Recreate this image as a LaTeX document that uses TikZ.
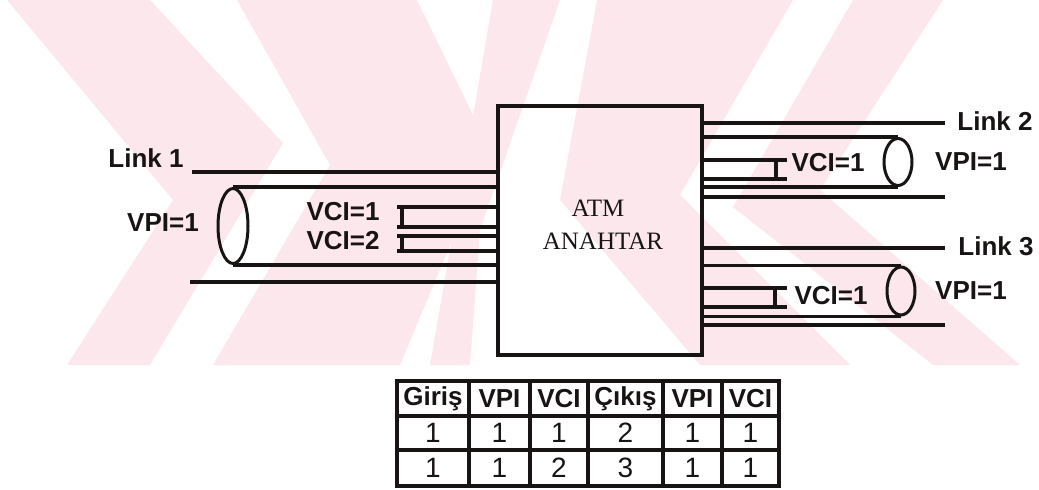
\documentclass[tikz,border=0pt]{standalone}
\usepackage{fontspec}
\setmainfont{Liberation Serif}
\setsansfont{Liberation Sans}
\usetikzlibrary{shapes.geometric,calc}
\definecolor{wm}{RGB}{252,232,236}
\definecolor{ink}{RGB}{25,20,20}
\tikzset{
  ln/.style={line width=3.4pt, draw=ink},
  tubeend/.style={draw=ink, line width=3pt, ellipse, inner sep=0pt},
  lbl/.style={font=\sffamily\bfseries\fontsize{26}{26}\selectfont, inner sep=0pt, text=ink},
  boxtxt/.style={font=\rmfamily\fontsize{25}{25}\selectfont, inner sep=0pt, text=ink},
  thd/.style={font=\sffamily\bfseries\fontsize{26}{26}\selectfont, inner sep=0pt, text=ink},
  tcell/.style={font=\sffamily\fontsize{28}{28}\selectfont, inner sep=0pt, text=ink},
}
\begin{document}
\begin{tikzpicture}[x=1pt,y=-1pt]
\useasboundingbox (0,0) rectangle (1039,490);
% watermark
\begin{scope}
\clip (0,0) rectangle (1039,365);
\fill[wm] (7,0) -- (150,0) -- (283,143) -- (150,365) -- (67,365) -- (173,200) -- cycle;
\fill[wm] (237,0) -- (417,0) -- (490,150) -- (400,365) -- (213,365) -- (330,165) -- cycle;
\fill[wm] (493,0) -- (560,0) -- (480,230) -- (470,365) -- (430,365) -- cycle;
\fill[wm] (597,0) -- (793,0) -- (680,195) -- (850,365) -- (700,365) -- (560,200) -- cycle;
\fill[wm] (853,0) -- (943,0) -- (820,190) -- (1020,365) -- (933,365) -- (733,207) -- cycle;
\end{scope}

% switch
\node[draw=ink, line width=3.6pt, minimum width=204pt, minimum height=249pt, inner sep=0pt] (sw) at (600,230.5) {};
\node[boxtxt] (atm) at (598,208) {ATM};
\node[boxtxt] (anahtar) at (603,241) {ANAHTAR};

% ---- Link 1 ----
\coordinate (l1t) at (192,172);
\coordinate (l1b) at (190,282);
\draw[ln] (l1t) -- (l1t -| sw.west);
\draw[ln] (l1b) -- (l1b -| sw.west);
\node[tubeend, minimum width=30pt, minimum height=75pt] (e1) at (233,226) {};
\draw[ln] (e1.north) -- (e1.north -| sw.west);
\draw[ln] (e1.south) -- (e1.south -| sw.west);
\coordinate (v1a) at (397,207);
\coordinate (v1b) at (397,227);
\coordinate (v2a) at (397,236);
\coordinate (v2b) at (397,251);
\foreach \c in {v1a,v1b,v2a,v2b} \draw[ln] (\c) -- (\c -| sw.west);
\draw[ln] ($(v1a)+(5,0)$) -- ($(v1b)+(5,0)$);
\draw[ln] ($(v2a)+(5,0)$) -- ($(v2b)+(5,0)$);
\node[lbl] (link1) at (146,158) {Link 1};
\node[lbl] (vpi1) at (163,223) {VPI=1};
\node[lbl] (vci11) at (343,212) {VCI=1};
\node[lbl] (vci12) at (343,241) {VCI=2};

% ---- Link 2 ----
\coordinate (l2t) at (945,123);
\coordinate (l2b) at (945,197);
\draw[ln] (sw.east |- l2t) -- (l2t);
\draw[ln] (sw.east |- l2b) -- (l2b);
\node[tubeend, minimum width=28pt, minimum height=47pt] (e2) at (898,162) {};
\draw[ln] (sw.east |- e2.north) -- (e2.north);
\draw[ln] (sw.east |- e2.south) -- (e2.south);
\coordinate (v3a) at (787,160);
\coordinate (v3b) at (787,179);
\foreach \c in {v3a,v3b} \draw[ln] (sw.east |- \c) -- (\c);
\draw[ln] ($(v3a)+(-11,0)$) -- ($(v3b)+(-11,0)$);
\node[lbl] (link2) at (995,121) {Link 2};
\node[lbl] (vci21) at (828,163) {VCI=1};
\node[lbl] (vpi2) at (971,162) {VPI=1};

% ---- Link 3 ----
\coordinate (l3t) at (945,248);
\coordinate (l3b) at (945,325);
\draw[ln] (sw.east |- l3t) -- (l3t);
\draw[ln] (sw.east |- l3b) -- (l3b);
\node[tubeend, minimum width=28pt, minimum height=48pt] (e3) at (901,291) {};
\draw[ln] (sw.east |- e3.north) -- (e3.north);
\draw[ln] (sw.east |- e3.south) -- (e3.south);
\coordinate (v4a) at (787,288);
\coordinate (v4b) at (787,307);
\foreach \c in {v4a,v4b} \draw[ln] (sw.east |- \c) -- (\c);
\draw[ln] ($(v4a)+(-12,0)$) -- ($(v4b)+(-12,0)$);
\node[lbl] (link3) at (996,246) {Link 3};
\node[lbl] (vci31) at (831,296) {VCI=1};
\node[lbl] (vpi3) at (971,291) {VPI=1};

% ---- table ----
\draw[ln] (397,381) rectangle (779,486);
\foreach \y in {416,450} \draw[ln] (397,\y) -- (779,\y);
\foreach \x in {469,530,588,663,722} \draw[ln] (\x,381) -- (\x,486);
\node[thd] (h1) at (433,399) {Giriş};
\node[thd] (h2) at (499.5,399) {VPI};
\node[thd] (h3) at (559,399) {VCI};
\node[thd] (h4) at (625.5,399) {Çıkış};
\node[thd] (h5) at (692.5,399) {VPI};
\node[thd] (h6) at (750.5,399) {VCI};
\node[tcell] (a1) at (433,433) {1};
\node[tcell] (a2) at (499.5,433) {1};
\node[tcell] (a3) at (559,433) {1};
\node[tcell] (a4) at (625.5,433) {2};
\node[tcell] (a5) at (692.5,433) {1};
\node[tcell] (a6) at (750.5,433) {1};
\node[tcell] (b1) at (433,468) {1};
\node[tcell] (b2) at (499.5,468) {1};
\node[tcell] (b3) at (559,468) {2};
\node[tcell] (b4) at (625.5,468) {3};
\node[tcell] (b5) at (692.5,468) {1};
\node[tcell] (b6) at (750.5,468) {1};
\end{tikzpicture}
\end{document}
